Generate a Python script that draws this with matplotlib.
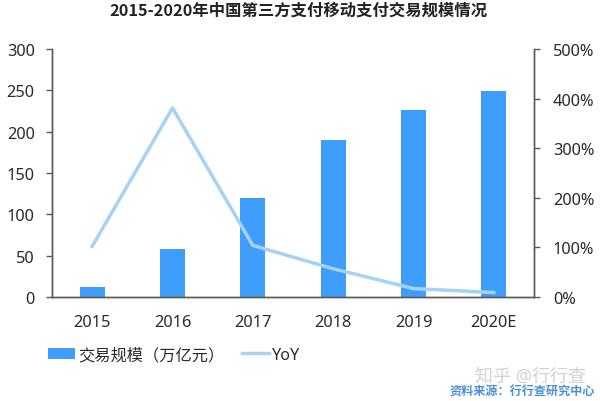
import matplotlib
matplotlib.use("Agg")
import matplotlib.pyplot as plt
from matplotlib.ticker import FuncFormatter

plt.rcParams['font.family'] = ['Noto Sans', 'Noto Sans CJK SC', 'DejaVu Sans']

years = ['2015', '2016', '2017', '2018', '2019', '2020E']
volume = [12, 58, 120, 190, 226, 249]
yoy = [102, 381, 104, 57, 17, 9]
left_ticks = [0, 50, 100, 150, 200, 250, 300]
right_ticks = [0, 100, 200, 300, 400, 500]

BAR = '#3f9dfb'
LINE = '#a6d2f8'
GREY = '#595959'
TEXT = '#2a2a2a'

fig = plt.figure(figsize=(6.0, 4.02), dpi=100)
ax = fig.add_axes([52/600, 1-298/402, 482/600, 248/402])
x = list(range(len(years)))
bars = ax.bar(x, volume, width=0.315, color=BAR, zorder=2)
ax.set_xlim(-0.5, 5.5)
ax.set_ylim(0, 300)
ax.set_yticks(left_ticks)
ax.set_xticks(x)
ax.set_xticklabels(years)
ax.tick_params(axis='x', length=0, labelsize=11.8, pad=12, colors=TEXT)
ax.tick_params(axis='y', length=4.5, width=1.0, color=GREY, labelsize=11.8, pad=8, labelcolor=TEXT)

ax2 = ax.twinx()
line, = ax2.plot(x, yoy, color=LINE, lw=2.5, zorder=3, solid_joinstyle='round')
ax2.set_ylim(0, 500)
ax2.set_yticks(right_ticks)
ax2.yaxis.set_major_formatter(FuncFormatter(lambda v, p: f'{int(v)}%'))
ax2.tick_params(axis='y', length=4.5, width=1.0, color=GREY, labelsize=11.8, pad=9, labelcolor=TEXT)

for a in (ax, ax2):
    a.spines['top'].set_visible(False)
    for s in ('left', 'right', 'bottom'):
        a.spines[s].set_color(GREY)
        a.spines[s].set_linewidth(1.0)

fig.text(298/600, 1-11/402, '2015-2020年中国第三方支付移动支付交易规模情况', ha='center', va='center',
         fontsize=11.75, fontweight='bold', color='#222222', family=['Noto Sans CJK SC'])

fig.legend([bars, line], ['交易规模（万亿元）', 'YoY'], loc='center left',
           bbox_to_anchor=(48/600, 1-356/402), ncol=2, frameon=False, fontsize=11.7,
           handlelength=1.65, handletextpad=0.2, columnspacing=1.1, borderpad=0, borderaxespad=0,
           labelcolor=TEXT)

fig.text(586/600, 1-377/402, '知乎 @行行查', ha='right', va='center', fontsize=13, color='#d2d2d2')
fig.text(595/600, 1-392/402, '资料来源：行行查研究中心', ha='right', va='center', fontsize=8.7,
         fontweight='bold', color='#4b8fd6', family=['Noto Sans CJK SC'])

fig.savefig('out.png', dpi=100)
